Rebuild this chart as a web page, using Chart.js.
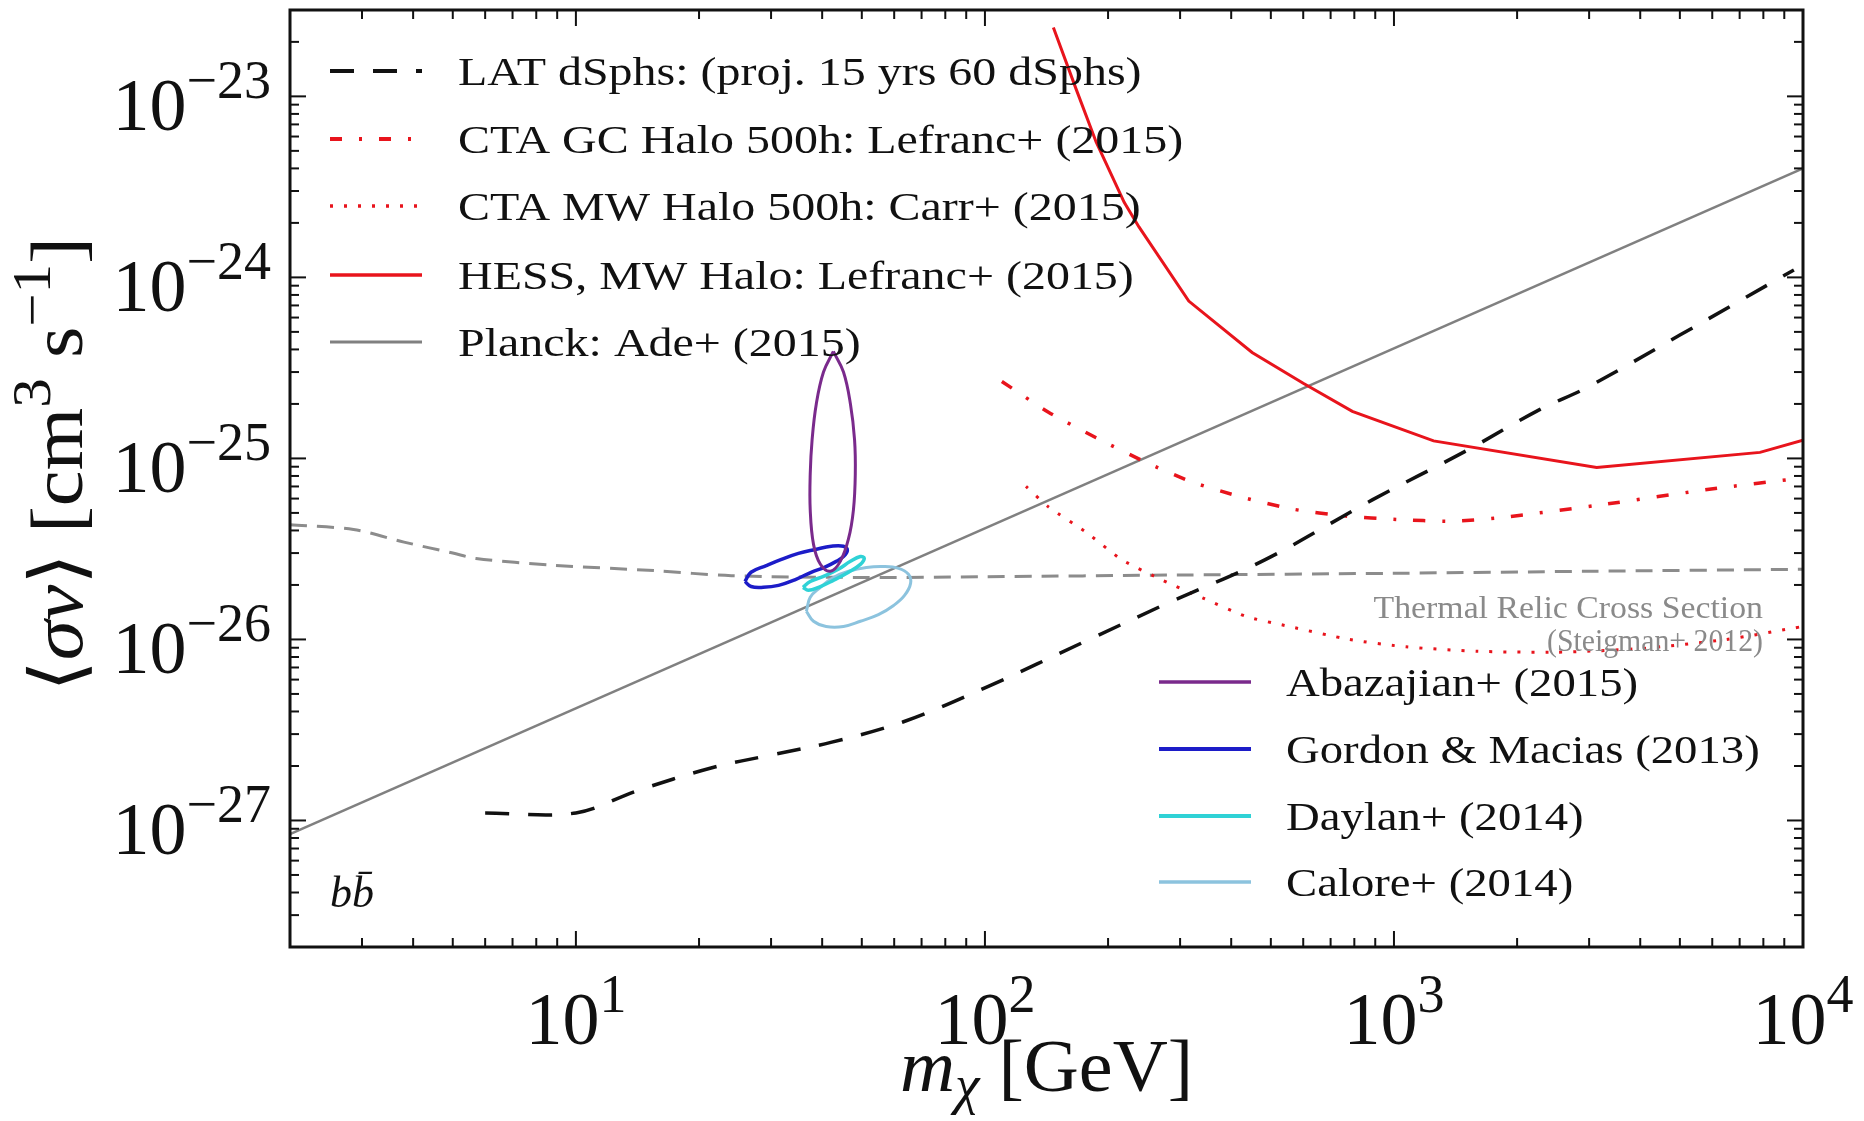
<!DOCTYPE html>
<html>
<head>
<meta charset="utf-8">
<script src="https://cdn.jsdelivr.net/npm/chart.js@4.4.1/dist/chart.umd.min.js"></script>
<style>
  html, body { margin: 0; padding: 0; background: #fff; }
  canvas { display: block; }
</style>
</head>
<body>
<canvas id="chart" width="1864" height="1121"></canvas>
<script>
// Values: dark matter mass in GeV, <sigma v> in cm^3 s^-1

// Planck (straight line in log-log)
const planckMass = [2, 10000];
const planckSigma = [8.4e-28, 4.0e-24];

// Thermal relic cross section (Steigman+ 2012)
const relicMass = [2, 2.86, 3.8, 5, 5.7, 8.8, 15.5, 24, 50, 100, 300, 1000, 3000, 10000];
const relicSigma = [4.3e-26, 4.05e-26, 3.45e-26, 3.0e-26, 2.8e-26, 2.57e-26, 2.4e-26, 2.25e-26, 2.2e-26, 2.22e-26, 2.27e-26, 2.32e-26, 2.38e-26, 2.44e-26];

// LAT dSphs projection
const latMass = [6, 10, 14, 21.4, 30, 42, 63, 100, 180, 282, 486, 885, 1500, 2270, 2960, 5000, 9500];
const latSigma = [1.1e-27, 1.1e-27, 1.45e-27, 1.95e-27, 2.3e-27, 2.7e-27, 3.5e-27, 5.4e-27, 1.0e-26, 1.6e-26, 2.77e-26, 5.9e-26, 1.1e-25, 1.86e-25, 2.46e-25, 4.8e-25, 1.1e-24];

// HESS MW halo
const hessMass = [147, 167, 187, 219, 238, 315, 450, 600, 791, 1250, 3130, 7850, 10000];
const hessSigma = [2.4e-23, 1.1e-23, 5.6e-24, 2.6e-24, 1.9e-24, 7.4e-25, 3.85e-25, 2.6e-25, 1.82e-25, 1.25e-25, 8.9e-26, 1.08e-25, 1.26e-25];

// CTA GC halo 500h
const ctaGcMass = [110, 143, 187, 248, 321, 426, 564, 764, 1014, 1370, 1813, 3310, 6030, 10000];
const ctaGcSigma = [2.66e-25, 1.8e-25, 1.3e-25, 9.5e-26, 7.4e-26, 6.1e-26, 5.25e-26, 4.8e-26, 4.6e-26, 4.5e-26, 4.7e-26, 5.6e-26, 6.8e-26, 7.8e-26];

// CTA MW halo 500h
const ctaMwMass = [126, 143, 177, 216, 271, 340, 435, 554, 777, 1070, 1600, 2500, 4000, 6500, 10000];
const ctaMwSigma = [7.0e-26, 5.4e-26, 3.9e-26, 2.76e-26, 2.13e-26, 1.7e-26, 1.34e-26, 1.18e-26, 1.0e-26, 9.1e-27, 8.6e-27, 8.5e-27, 8.9e-27, 1.0e-26, 1.18e-26];

// GC excess contours (closed)
const abazajianMass = [42.6, 45.1, 46.9, 48.0, 48.2, 47.7, 46.4, 44.3, 41.9, 39.6, 38.1, 37.4, 37.4, 37.8, 38.7, 40.3, 42.6];
const abazajianSigma = [3.9e-25, 3.0e-25, 2.0e-25, 1.27e-25, 8.2e-26, 5.2e-26, 3.6e-26, 2.7e-26, 2.38e-26, 2.6e-26, 3.35e-26, 5.2e-26, 8.2e-26, 1.27e-25, 2.0e-25, 3.0e-25, 3.9e-25];

const gordonMass = [25.9, 26.8, 29.2, 31.8, 35.0, 38.5, 42.1, 45.1, 46.1, 45.1, 43.3, 40.5, 37.6, 34.4, 31.3, 28.7, 26.8, 25.9];
const gordonSigma = [2.09e-26, 2.35e-26, 2.56e-26, 2.77e-26, 2.99e-26, 3.14e-26, 3.27e-26, 3.27e-26, 3.1e-26, 2.87e-26, 2.7e-26, 2.5e-26, 2.35e-26, 2.14e-26, 1.99e-26, 1.94e-26, 1.96e-26, 2.09e-26];

const daylanMass = [35.9, 37.4, 40.3, 43.8, 46.9, 49.6, 50.7, 49.6, 46.4, 42.6, 39.2, 37.0, 35.9];
const daylanSigma = [1.94e-26, 2.09e-26, 2.23e-26, 2.44e-26, 2.7e-26, 2.87e-26, 2.81e-26, 2.6e-26, 2.35e-26, 2.12e-26, 1.94e-26, 1.87e-26, 1.94e-26];

const caloreMass = [36.6, 37.4, 39.6, 42.6, 46.4, 51.3, 56.5, 61.5, 65.0, 65.8, 63.6, 59.8, 54.9, 49.6, 45.1, 40.9, 38.1, 36.6];
const caloreSigma = [1.43e-26, 1.71e-26, 1.94e-26, 2.2e-26, 2.38e-26, 2.5e-26, 2.53e-26, 2.47e-26, 2.29e-26, 2.04e-26, 1.75e-26, 1.54e-26, 1.37e-26, 1.26e-26, 1.18e-26, 1.18e-26, 1.26e-26, 1.43e-26];

// Axis ticks (exponents of the labelled decades)
const xTickExps = [1, 2, 3, 4];
const yTickExps = [-27, -26, -25, -24, -23];

const upperLegend = [
    "LAT dSphs: (proj. 15 yrs 60 dSphs)",
    "CTA GC Halo 500h: Lefranc+ (2015)",
    "CTA MW Halo 500h: Carr+ (2015)",
    "HESS, MW Halo: Lefranc+ (2015)",
    "Planck: Ade+ (2015)"
];
const lowerLegend = [
    "Abazajian+ (2015)",
    "Gordon & Macias (2013)",
    "Daylan+ (2014)",
    "Calore+ (2014)"
];

const SERIF = '"Liberation Serif", "DejaVu Serif", serif';

// turn two arrays into {x, y} points
const pts = (m, s) => m.map((v, i) => ({ x: v, y: s[i] }));

const line = (label, m, s, color, width, dash, tension) => ({
    label: label,
    data: pts(m, s),
    borderColor: color,
    borderWidth: width,
    borderDash: dash || [],
    tension: tension || 0,
    pointRadius: 0,
    fill: false
});

const datasets = [
    line(lowerLegend[0], abazajianMass, abazajianSigma, "#7a2a8c", 3, null, 0.4),
    line(lowerLegend[1], gordonMass, gordonSigma, "#1c1cc8", 3.5, null, 0.4),
    line(lowerLegend[2], daylanMass, daylanSigma, "#2fd2d6", 3.5, null, 0.4),
    line(lowerLegend[3], caloreMass, caloreSigma, "#8cc3de", 3, null, 0.4),
    line(upperLegend[0], latMass, latSigma, "#111111", 3.5, [24, 19], 0.35),
    line(upperLegend[1], ctaGcMass, ctaGcSigma, "#e8141c", 3.5, [12, 17, 3, 17], 0.2),
    line(upperLegend[2], ctaMwMass, ctaMwSigma, "#e8141c", 3, [3, 11], 0.2),
    line(upperLegend[3], hessMass, hessSigma, "#e8141c", 3, null, 0),
    line(upperLegend[4], planckMass, planckSigma, "#808080", 2.5, null, 0),
    line("Thermal Relic Cross Section", relicMass, relicSigma, "#8c8c8c", 3, [17, 10], 0.3)
];

// draw a row of text pieces (for superscripts / subscripts); sx stretches horizontally
function drawRuns(ctx, runs, x, y, align, sx) {
    sx = sx || 1;
    let total = 0;
    runs.forEach((r) => {
        ctx.font = r.font;
        r.w = ctx.measureText(r.t).width * sx;
        total += r.w;
    });
    let cx = align === "center" ? x - total / 2 : align === "right" ? x - total : x;
    ctx.textAlign = "left";
    ctx.textBaseline = "alphabetic";
    runs.forEach((r) => {
        ctx.save();
        ctx.translate(cx, y + (r.dy || 0));
        ctx.scale(sx, 1);
        ctx.font = r.font;
        ctx.fillStyle = r.color || "#111";
        ctx.fillText(r.t, 0, 0);
        ctx.restore();
        cx += r.w;
    });
}

const BASE = "74px " + SERIF;
const SUP = "54px " + SERIF;
const RAISE = -32;

const powLabel = (e) => [
    { t: "10", font: BASE },
    { t: String(e).replace("-", "\u2212"), font: SUP, dy: RAISE }
];

const decorPlugin = {
    id: "decor",
    beforeDraw(chart) {
        const ctx = chart.ctx;
        ctx.save();
        ctx.fillStyle = "#fff";
        ctx.fillRect(0, 0, chart.width, chart.height);
        ctx.restore();
    },
    afterDraw(chart) {
        const ctx = chart.ctx;
        const a = chart.chartArea;
        const xs = chart.scales.x;
        const ys = chart.scales.y;
        ctx.save();

        // inward ticks on all four sides
        ctx.strokeStyle = "#111";
        ctx.lineWidth = 2;
        const tick = (x1, y1, x2, y2) => {
            ctx.beginPath();
            ctx.moveTo(x1, y1);
            ctx.lineTo(x2, y2);
            ctx.stroke();
        };
        for (let e = 0; e <= 4; e++) {
            for (let k = 1; k <= 9; k++) {
                const v = k * Math.pow(10, e);
                if (v <= xs.min || v >= xs.max) continue;
                const px = xs.getPixelForValue(v);
                const len = k === 1 ? 16 : 9;
                tick(px, a.bottom, px, a.bottom - len);
                tick(px, a.top, px, a.top + len);
            }
        }
        for (let e = -28; e <= -23; e++) {
            for (let k = 1; k <= 9; k++) {
                const v = k * Math.pow(10, e);
                if (v <= ys.min * 1.0001 || v >= ys.max * 0.9999) continue;
                const py = ys.getPixelForValue(v);
                const len = k === 1 ? 16 : 9;
                tick(a.left, py, a.left + len, py);
                tick(a.right, py, a.right - len, py);
            }
        }

        // frame
        ctx.lineWidth = 3;
        ctx.strokeRect(a.left, a.top, a.right - a.left, a.bottom - a.top);

        // tick labels
        xTickExps.forEach((e) => {
            drawRuns(ctx, powLabel(e), xs.getPixelForValue(Math.pow(10, e)), 1044, "center");
        });
        yTickExps.forEach((e) => {
            drawRuns(ctx, powLabel(e), 271, ys.getPixelForValue(Math.pow(10, e)) + 34, "right");
        });

        // axis titles
        drawRuns(ctx, [
            { t: "m", font: "italic 74px " + SERIF },
            { t: "\u03c7", font: "italic 54px " + SERIF, dy: 12 },
            { t: " [GeV]", font: BASE }
        ], (a.left + a.right) / 2, 1091, "center", 1.03);

        ctx.save();
        ctx.translate(82, (a.top + a.bottom) / 2 - 14);
        ctx.rotate(-Math.PI / 2);
        drawRuns(ctx, [
            { t: "\u27e8", font: BASE },
            { t: "\u03c3v", font: "italic 74px " + SERIF },
            { t: "\u27e9 [cm", font: BASE },
            { t: "3", font: SUP, dy: RAISE },
            { t: " s", font: BASE },
            { t: "\u22121", font: SUP, dy: RAISE },
            { t: "]", font: BASE }
        ], 0, 0, "center", 1.09);
        ctx.restore();

        // legends, styled from the datasets
        const LEG = "41px " + SERIF;
        const handle = (ds, x1, x2, y) => {
            ctx.save();
            ctx.strokeStyle = ds.borderColor;
            ctx.lineWidth = ds.borderWidth + 0.5;
            ctx.setLineDash(ds.borderDash);
            ctx.beginPath();
            ctx.moveTo(x1, y);
            ctx.lineTo(x2, y);
            ctx.stroke();
            ctx.restore();
        };
        const upRows = [71, 139, 206, 275, 342];
        upperLegend.forEach((txt, i) => {
            const ds = chart.data.datasets.find((d) => d.label === txt);
            handle(ds, 330, 422, upRows[i]);
            drawRuns(ctx, [{ t: txt, font: LEG }], 458, upRows[i] + 14, "left", 1.17);
        });
        const lowRows = [682, 749, 816, 882];
        lowerLegend.forEach((txt, i) => {
            const ds = chart.data.datasets.find((d) => d.label === txt);
            handle(ds, 1159, 1251, lowRows[i]);
            drawRuns(ctx, [{ t: txt, font: LEG }], 1286, lowRows[i] + 14, "left", 1.14);
        });

        // annotations
        drawRuns(ctx, [{ t: "Thermal Relic Cross Section", font: "31px " + SERIF, color: "#8a8a8a" }], 1763, 618, "right", 1.09);
        drawRuns(ctx, [{ t: "(Steigman+ 2012)", font: "31px " + SERIF, color: "#8a8a8a" }], 1763, 651, "right", 0.96);
        drawRuns(ctx, [{ t: "bb\u0304", font: "italic 44px " + SERIF }], 330, 907, "left");

        ctx.restore();
    }
};

new Chart(document.getElementById("chart"), {
    type: "line",
    data: { datasets: datasets },
    options: {
        responsive: false,
        devicePixelRatio: 1,
        animation: false,
        layout: { padding: { left: 290, right: 61, top: 10, bottom: 174 } },
        plugins: { legend: { display: false }, tooltip: { enabled: false } },
        scales: {
            x: { type: "logarithmic", min: 2, max: 10000, display: false },
            y: { type: "logarithmic", min: 2e-28, max: 3e-23, display: false }
        }
    },
    plugins: [decorPlugin]
});
</script>
</body>
</html>
